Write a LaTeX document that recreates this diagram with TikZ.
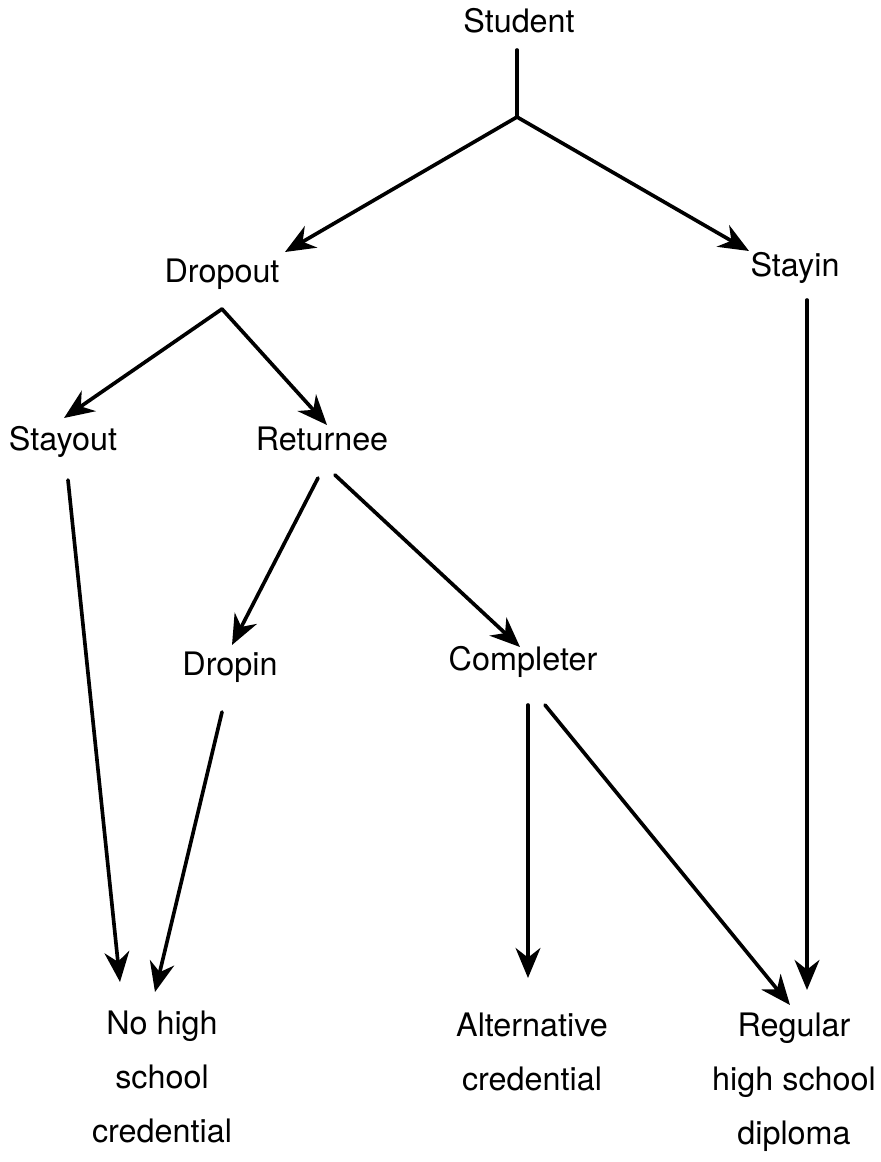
\documentclass[tikz,border=0pt]{standalone}
\usepackage{fontspec}
\setmainfont{TeX Gyre Heros}
\usetikzlibrary{arrows.meta}

\begin{document}
\begin{tikzpicture}[line cap=round, line join=round, x=0.025cm, y=-0.025cm,
    every node/.style={font=\fontsize{23}{38.4}\selectfont},
    lbl/.style={anchor=base, inner sep=0pt},
    endlbl/.style={anchor=north, inner sep=0pt, align=center},
    arr/.style={line width=2.6pt, -{Stealth[length=0.75cm, width=0.62cm, inset=0.24cm]}},
    ln/.style={line width=2.6pt}]

                \useasboundingbox (0,0) rectangle (880,1162);

                \node[lbl] (student) at (519,33) {Student};
                \node[lbl] (dropout) at (222,282) {Dropout};
                \node[lbl] (stayin) at (795,277) {Stayin};
                \node[lbl] (stayout) at (63,450) {Stayout};
                \node[lbl] (returnee) at (322,450) {Returnee};
                \node[lbl] (dropin) at (230,675) {Dropin};
                \node[lbl] (completer) at (523,670) {Completer};

                \node[endlbl] (nohigh) at (162,1011) {No high\\school\\credential};
                \node[endlbl] (altcred) at (532,1013) {Alternative\\credential};
                \node[endlbl] (regular) at (794,1013) {Regular\\high school\\diploma};

                \coordinate (fork1) at (517,117);
                \coordinate (fork2) at ([shift={(0,27)}]dropout.base);

                \draw[ln] ([shift={(-2,17)}]student.base) -- (fork1);
                \draw[arr] (fork1) -- ([shift={(63,-30)}]dropout.base);
                \draw[arr] (fork1) -- ([shift={(-46,-26)}]stayin.base);

                \draw[arr] (fork2) -- ([shift={(1,-32)}]stayout.base);
                \draw[arr] (fork2) -- ([shift={(5,-25)}]returnee.base);

                \draw[arr] ([shift={(12,23)}]stayin.base) -- ([shift={(13,-23)}]regular.north);
                \draw[arr] ([shift={(5,30)}]stayout.base) -- ([shift={(-42,-29)}]nohigh.north);

                \draw[arr] ([shift={(-4,28)}]returnee.base) -- ([shift={(2,-30)}]dropin.base);
                \draw[arr] ([shift={(13,25)}]returnee.base) -- ([shift={(-3,-23)}]completer.base);

                \draw[arr] ([shift={(-8,37)}]dropin.base) -- ([shift={(-7,-19)}]nohigh.north);
                \draw[arr] ([shift={(5,35)}]completer.base) -- ([shift={(-4,-35)}]altcred.north);
                \draw[arr] ([shift={(22,35)}]completer.base) -- ([shift={(-4,-8)}]regular.north);

            \end{tikzpicture}
\end{document}
